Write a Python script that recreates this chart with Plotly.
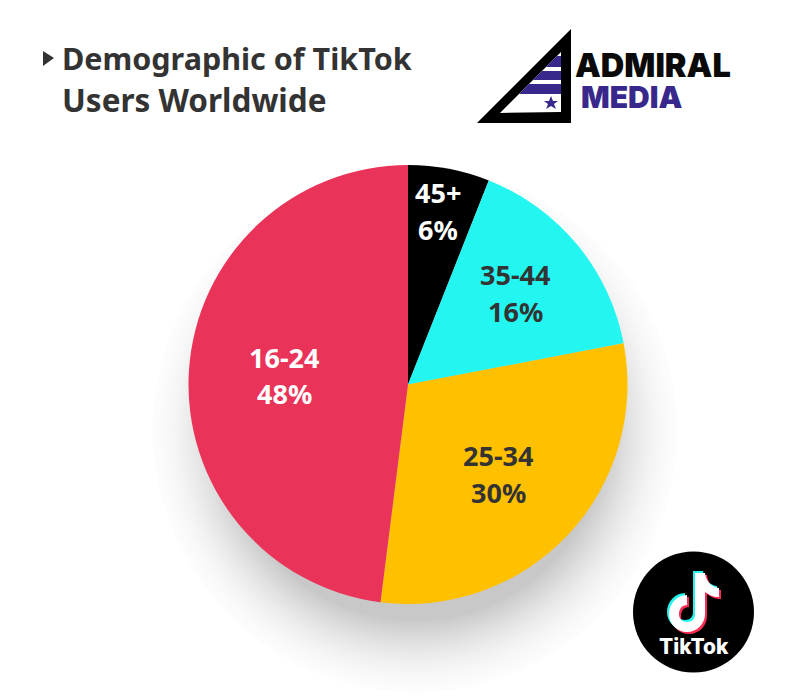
import re
import plotly.graph_objects as go

# slices, clockwise from 12 o'clock
age_groups = ["45+", "35-44", "25-34", "16-24"]
shares = [6, 16, 30, 48]
slice_colors = ["#000000", "#23F6F1", "#FFC000", "#EA3358"]
label_colors = ["#FFFFFF", "#333333", "#333333", "#FFFFFF"]

# browser body margin is 8px, so the figure is 792x692 and everything is offset by it
OFF = 8
W = 792
H = 692


def fx(x):
    return (x - OFF) / W


def fy(y):
    return 1 - (y - OFF) / H


def pth(d, dx=0, dy=0):
    # path written in picture pixels -> paper coordinates
    parts = re.findall(r"[A-Za-z]|-?\d+\.?\d*", d)
    out = []
    is_x = True
    for p in parts:
        if p.isalpha():
            out.append(p)
            is_x = True
        elif is_x:
            out.append(f"{fx(float(p) + dx):.5f}")
            is_x = False
        else:
            out.append(f"{fy(float(p) + dy):.5f}")
            is_x = True
    return " ".join(out)


def circle(cx, cy, r, color, opacity=1.0, layer="below"):
    return dict(type="circle", xref="paper", yref="paper",
                x0=fx(cx - r), x1=fx(cx + r),
                y0=fy(cy + r), y1=fy(cy - r),
                fillcolor=color, opacity=opacity, line_width=0, layer=layer)


def poly(d, color, dx=0, dy=0):
    return dict(type="path", xref="paper", yref="paper", path=pth(d, dx, dy),
                fillcolor=color, line_width=0, layer="above")


fig = go.Figure(go.Pie(
    labels=age_groups,
    values=shares,
    textinfo="none",
    marker=dict(colors=slice_colors, line_width=0),
    sort=False,
    direction="clockwise",
    rotation=0,
    hole=0,
    domain=dict(x=[fx(188.5), fx(627.5)], y=[fy(604), fy(165)]),
    showlegend=False,
))

shapes = []

# soft drop shadow under the pie, opaque greys because tiny opacities round away to nothing
steps = 72
for i in range(steps + 1):
    alpha = 0.012 + 0.203 * (i / steps) ** 1.6
    grey = round(255 * (1 - alpha))
    shapes.append(circle(415, 430, 262 - i, f"rgb({grey},{grey},{grey})"))

# bullet
shapes.append(poly("M 43 51 L 54 58 L 43 66 Z", "#333333"))

# admiral logo
shapes.append(poly("M 571 29 L 571 123 L 477 123 Z M 561 52 L 500 113 L 561 112 Z", "#000000"))
shapes.append(poly("M 561 56 L 561 67 L 546 67 L 557 56 Z", "#38288C"))
shapes.append(poly("M 561 71 L 561 80 L 533 80 L 542 71 Z", "#38288C"))
shapes.append(poly("M 561 84 L 561 94 L 519 94 L 529 84 Z", "#38288C"))
shapes.append(poly("M 551 96 L 553 101 L 558 101 L 554 104 L 556 109 L 551 106 L 546 109 L 548 104 L 544 101 L 549 101 Z", "#38288C"))

# tiktok badge
shapes.append(circle(693.5, 612, 60.5, "#000000", layer="above"))
note = ("M 695 573 L 705 573 C 706 581 711 587 719 588 L 719 597 C 713 597 709 595 705 592 "
        "L 705 614 C 705 624 697 632 687 632 C 677 632 669 624 669 614 C 669 604 677 595 687 595 "
        "L 687 605 C 682 605 679 609 679 614 C 679 619 682 622 687 622 C 692 622 695 619 695 614 Z")
shapes.append(poly(note, "#FE2C55", 2, 2))
shapes.append(poly(note, "#25F4EE", -2, -2))
shapes.append(poly(note, "#FFFFFF"))


def note_text(x, y, text, size, color, family="Noto Sans", weight="bold", xanchor="left"):
    return dict(xref="paper", yref="paper", x=fx(x), y=fy(y), text=text, showarrow=False,
                xanchor=xanchor, yanchor="middle", align="left", borderpad=0,
                font=dict(family=family, size=size, color=color, weight=weight))


annotations = [
    note_text(61, 58, "Demographic of TikTok", 30.5, "#333333"),
    note_text(61, 100, "Users Worldwide", 31.5, "#333333"),
    note_text(574, 65, "ADMIRAL", 32.5, "#0A0A0A", family="Inter", weight=900),
    note_text(580, 97, "MEDIA", 30, "#38288C", family="Inter", weight=900),
    note_text(693.5, 646, "TikTok", 21, "#FFFFFF", family="Inter", weight=800, xanchor="center"),
]

# slice labels, placed by hand as in the source picture (two rows each)
label_x = [438, 515, 498, 284]
label_y = [(193, 230), (274, 311), (455, 492), (357, 393)]
for name, val, col, x, (y1, y2) in zip(age_groups, shares, label_colors, label_x, label_y):
    annotations.append(note_text(x, y1, name, 27, col, xanchor="center"))
    annotations.append(note_text(x, y2, f"{val}%", 27, col, xanchor="center"))

fig.update_layout(
    width=W,
    height=H,
    margin=dict(l=0, r=0, t=0, b=0),
    paper_bgcolor="#FFFFFF",
    plot_bgcolor="#FFFFFF",
    shapes=shapes,
    annotations=annotations,
)

fig.write_html("out.html")
